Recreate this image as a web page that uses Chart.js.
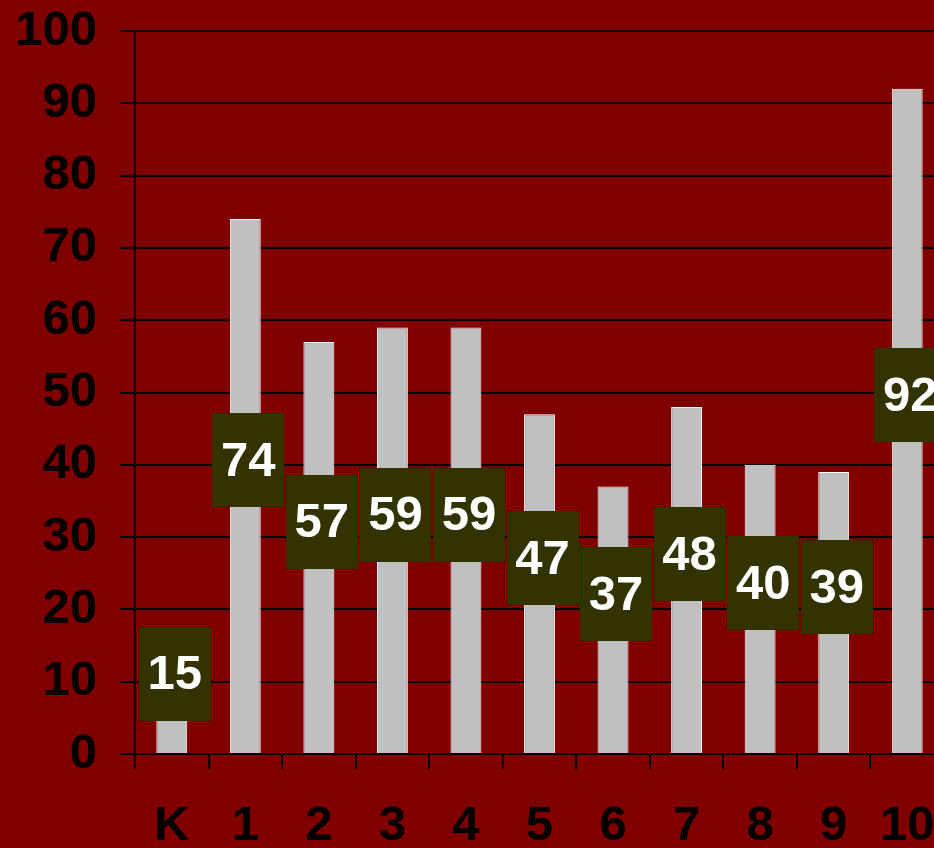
<!DOCTYPE html>
<html>
<head>
<meta charset="utf-8">
<script src="https://cdn.jsdelivr.net/npm/chart.js@4/dist/chart.umd.min.js"></script>
<style>
  html, body { margin: 0; padding: 0; background: #800000; overflow: hidden; }
  /* canvas is a little wider than the window: the last bar is cut off on the right */
  #chart { display: block; }
</style>
</head>
<body>
<canvas id="chart" width="944" height="848"></canvas>
<script>
/* chart data */
const categories = ['K', '1', '2', '3', '4', '5', '6', '7', '8', '9', '10'];
const values     = [15, 74, 57, 59, 59, 47, 37, 48, 40, 39, 92];
const yMin  = 0;
const yMax  = 100;
const yStep = 10;

const FONT = '"Liberation Sans", Arial, sans-serif';

/* dark value boxes, sitting around the middle of each bar */
const valueBoxes = {
  id: 'valueBoxes',
  afterDatasetsDraw(chart) {
    const { ctx } = chart;
    const yScale = chart.scales.y;
    const meta = chart.getDatasetMeta(0);
    const boxW = 72, boxH = 94;
    ctx.save();
    meta.data.forEach((bar, i) => {
      const v  = values[i];
      const cx = bar.x + 3;
      const cy = yScale.getPixelForValue(v / 2) - 26;
      ctx.fillStyle = '#333300';
      ctx.fillRect(Math.round(cx - boxW / 2), Math.round(cy - boxH / 2), boxW, boxH);
      ctx.fillStyle = '#ffffff';
      ctx.font = 'bold 49px ' + FONT;
      ctx.textAlign = 'center';
      ctx.textBaseline = 'middle';
      ctx.fillText(String(v), cx, cy + 2);
    });
    ctx.restore();
  }
};

new Chart(document.getElementById('chart'), {
  type: 'bar',
  data: {
    labels: categories,
    datasets: [{
      data: values,
      backgroundColor: '#c0c0c0',
      borderColor: '#ffffff',
      borderWidth: 1,
      barPercentage: 0.42,
      categoryPercentage: 1
    }]
  },
  options: {
    responsive: false,
    animation: false,
    events: [],
    layout: { padding: { left: 0, right: 0, top: 31, bottom: 0 } },
    plugins: {
      legend: { display: false },
      tooltip: { enabled: false }
    },
    scales: {
      x: {
        afterFit: (axis) => {
          axis.height = 94;
          axis.paddingLeft = 0;
          axis.paddingRight = 0;
        },
        grid: {
          offset: true,
          drawOnChartArea: false,
          color: '#000000',
          lineWidth: 2,
          tickLength: 15
        },
        border: { display: true, color: '#000000', width: 2 },
        ticks: {
          color: '#000000',
          padding: 28,
          font: { family: FONT, size: 49, weight: 'bold' }
        }
      },
      y: {
        min: yMin,
        max: yMax,
        afterFit: (axis) => {
          axis.width = 135;
          axis.paddingTop = 0;
          axis.paddingBottom = 0;
        },
        grid: {
          color: '#000000',
          lineWidth: 2,
          tickLength: 15
        },
        border: { display: true, color: '#000000', width: 2 },
        ticks: {
          stepSize: yStep,
          color: '#000000',
          padding: 23,
          font: { family: FONT, size: 49, weight: 'bold' }
        }
      }
    }
  },
  plugins: [valueBoxes]
});
</script>
</body>
</html>
